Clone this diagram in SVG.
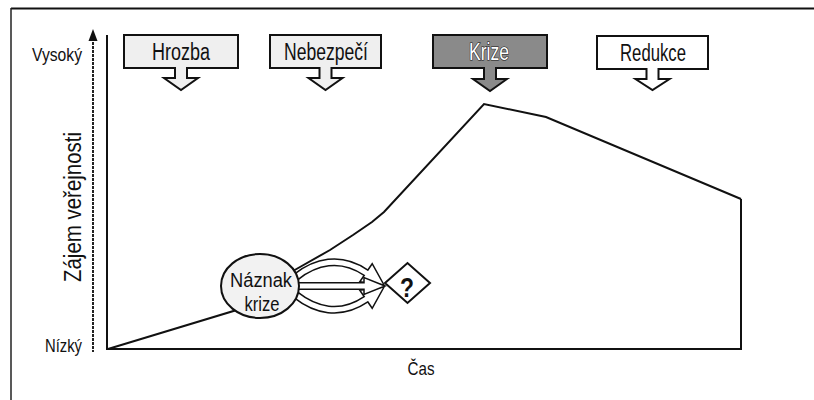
<svg xmlns="http://www.w3.org/2000/svg" width="814" height="400" viewBox="0 0 814 400">
<style>
.t{font-family:"Liberation Sans",Arial,sans-serif;fill:#111;}
.lbl{font-size:23px;}
.el{font-size:20px;}
.ax{font-size:19px;}
.co{stroke:#111;stroke-width:2;stroke-linejoin:miter;}
.ln{fill:none;stroke:#111;stroke-width:2;}
.band{fill:none;stroke:#111;stroke-width:8;}
.bandw{fill:none;stroke:#fff;stroke-width:5;}
.head{fill:#fff;stroke:#111;stroke-width:1.5;stroke-linejoin:miter;}
</style>
<rect x="0" y="0" width="814" height="400" fill="#fff"/>
<g id="frame">
<line x1="11" y1="8.5" x2="814" y2="8.5" stroke="#111" stroke-width="2"/>
<line x1="11" y1="8" x2="11" y2="400" stroke="#222" stroke-width="1.5"/>
</g>
<g id="axes">
<line x1="93" y1="38" x2="93" y2="352" stroke="#222" stroke-width="2" stroke-dasharray="3 1"/>
<polygon points="93,29 88.5,41 97.5,41" fill="#111"/>
<path class="ln" d="M107,35 V349 H741 V199"/>
<text class="t ax" x="82" y="61" text-anchor="end" textLength="50" lengthAdjust="spacingAndGlyphs">Vysoký</text>
<text class="t ax" x="82" y="352" text-anchor="end" textLength="37" lengthAdjust="spacingAndGlyphs">Nízký</text>
<text class="t ax" x="421" y="375" text-anchor="middle" textLength="27" lengthAdjust="spacingAndGlyphs">Čas</text>
<text class="t" font-size="23" transform="translate(81,207) rotate(-90)" text-anchor="middle" textLength="150" lengthAdjust="spacingAndGlyphs">Zájem veřejnosti</text>
</g>
<g id="curve">
<polyline class="ln" points="108,349 240,309 272,283 300,267 330,250 353,235 372,222 384,212 484,104 546,117 741,199"/>
</g>
<g id="connectors">
<path class="band" d="M296,277 C315,262 340,255 366,272.7"/>
<polygon class="head" points="384,285 359.8,281.7 372.2,263.7"/>
<path class="bandw" d="M296,277 C315,262 340,255 366,272.7 L369,274.7"/>
<path class="band" d="M296,295 C315,310 340,317 366,299.3"/>
<polygon class="head" points="384,287 359.8,290.3 372.2,308.3"/>
<path class="bandw" d="M296,295 C315,310 340,317 366,299.3 L369,297.3"/>
<path class="band" d="M298,286 H364"/>
<polygon class="head" points="385,286 364,277.5 364,294.5"/>
<path class="bandw" d="M298,286 H367"/>
</g>
<g id="n-hrozba">
<path class="co" fill="#efefef" d="M124,35 H238 V68 H187 V78 H198 L181,90 L164,78 H175 V68 H124 Z"/>
<text class="t lbl" x="181" y="60" text-anchor="middle" textLength="58" lengthAdjust="spacingAndGlyphs">Hrozba</text>
</g>
<g id="n-nebezpeci">
<path class="co" fill="#efefef" d="M270,35 H381 V68 H331.5 V78 H342.5 L325.5,90 L308.5,78 H319.5 V68 H270 Z"/>
<text class="t lbl" x="326" y="60" text-anchor="middle" textLength="84" lengthAdjust="spacingAndGlyphs">Nebezpečí</text>
</g>
<g id="n-krize">
<path class="co" fill="#8a8a8a" d="M433,35 H547 V68 H496 V79 H507 L490,91 L473,79 H484 V68 H433 Z"/>
<text class="t lbl" x="489" y="60" text-anchor="middle" textLength="40" lengthAdjust="spacingAndGlyphs" style="fill:#fff;stroke:#111;stroke-width:1.2;paint-order:stroke">Krize</text>
</g>
<g id="n-redukce">
<path class="co" fill="#fff" d="M597,36 H708 V69 H658.5 V79 H669.5 L652.5,90 L635.5,79 H646.5 V69 H597 Z"/>
<text class="t lbl" x="653" y="61" text-anchor="middle" textLength="66" lengthAdjust="spacingAndGlyphs">Redukce</text>
</g>
<g id="n-naznak">
<ellipse cx="260" cy="286" rx="39" ry="32" fill="#f2f2f2" stroke="#111" stroke-width="2"/>
<text class="t el" x="261" y="287" text-anchor="middle" textLength="62" lengthAdjust="spacingAndGlyphs">Náznak</text>
<text class="t el" x="262" y="311" text-anchor="middle" textLength="35" lengthAdjust="spacingAndGlyphs">krize</text>
</g>
<g id="n-otaznik">
<polygon points="385,283 407.5,263 430,283 407.5,303" fill="#fff" stroke="#111" stroke-width="2"/>
<text class="t" x="407" y="297" font-size="27" font-weight="bold" text-anchor="middle" textLength="14" lengthAdjust="spacingAndGlyphs">?</text>
</g>
</svg>
